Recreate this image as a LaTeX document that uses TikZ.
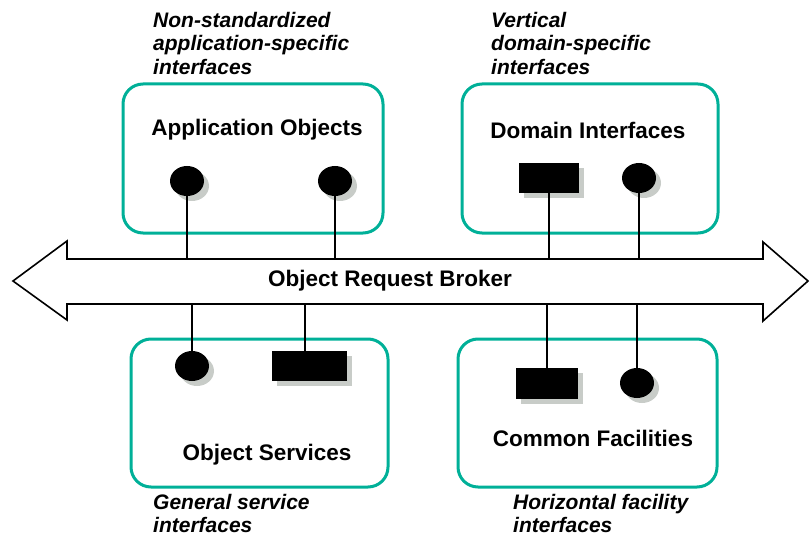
\documentclass[tikz,border=0pt]{standalone}
\usepackage{fontspec}
\setmainfont{Liberation Sans}
\usepackage{tikz}
\usetikzlibrary{shapes.geometric,shadows,calc}
\definecolor{boxteal}{RGB}{0,176,152}
\definecolor{shadegray}{RGB}{200,204,200}
\tikzset{  area/.style={draw=boxteal,line width=3pt,rounded corners=20pt,minimum height=149pt},
  title/.style={font=\fontsize{22.5}{26}\selectfont\bfseries,inner sep=0pt},
  note/.style={font=\fontsize{21}{23.5}\selectfont\bfseries\itshape,align=left,anchor=north west,inner sep=0pt},
  shade/.style={general shadow={fill=shadegray,shadow xshift=5pt,shadow yshift=-5pt}},
  dot/.style={ellipse,fill=black,minimum width=34pt,minimum height=30pt,inner sep=0pt,shade},
  slab/.style={rectangle,fill=black,minimum width=61pt,minimum height=30pt,inner sep=0pt,shade},
  wire/.style={line width=1.6pt} }

\begin{document}
\begin{tikzpicture}[x=1pt,y=-1pt]
   \useasboundingbox (0,0) rectangle (810,537);
   % object request broker
   \draw[line width=1.6pt] (13,281) -- (67,241) -- (67,259) -- (763,259) -- (763,242) -- (808,281)
     -- (763,321) -- (763,304) -- (67,304) -- (67,320) -- cycle;
   \coordinate (bustop) at (0,259);
   \coordinate (busbot) at (0,304);
   \node[title] (orb) at (390,281) {Object Request Broker};
   % areas
   \node[area,minimum width=260pt] (app) at (253,158.5) {};
   \node[area,minimum width=256pt] (dom) at (590,158.5) {};
   \node[area,minimum width=257pt,minimum height=148pt] (svc) at (259.5,413) {};
   \node[area,minimum width=259pt,minimum height=148pt] (fac) at (587.5,413) {};
   \node[title] at (257,130) {Application Objects};
   \node[title] at (588,130) {Domain Interfaces};
   \node[title] at (267,455) {Object Services};
   \node[title] at (593,438) {Common Facilities};
   % interfaces
   \node[dot] (app1) at (187,181) {};
   \node[dot] (app2) at (335,181) {};
   \node[slab,minimum width=60pt] (dom1) at (549,178) {};
   \node[dot] (dom2) at (639,178) {};
   \node[dot] (svc1) at (192,366) {};
   \node[slab,minimum width=75pt] (svc2) at (309.5,366) {};
   \node[slab,minimum width=62pt,minimum height=31pt] (fac1) at (547,383.5) {};
   \node[dot] (fac2) at (637,383) {};
   \foreach \p in {app1,app2,dom1,dom2}
     \draw[wire] (\p.center) -- (\p |- bustop);
   \foreach \p in {svc1,fac1,fac2}
     \draw[wire] (\p.north) -- (\p |- busbot);
   \draw[wire] ([xshift=-4.5pt]svc2.north) -- ([xshift=-4.5pt]svc2.north |- busbot);
   % notes
   \node[note] (appnote) at (153,12) {Non-standardized\\application-specific\\interfaces};
   \node[note] (domnote) at (491,12) {Vertical\\domain-specific\\interfaces};
   \node[note] (svcnote) at (153,494) {General service\\interfaces};
   \node[note] (facnote) at (513,494) {Horizontal facility\\interfaces};
\end{tikzpicture}
\end{document}
